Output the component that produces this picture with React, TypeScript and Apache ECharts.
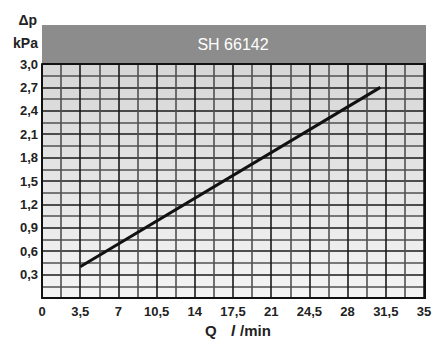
import React, { useEffect, useRef } from "react";
import * as echarts from "echarts";

const title = "SH 66142";
const yUnit = ["Δp", "kPa"];
const xName = ["Q", "l", "/min"];
const flowQ = [3.5, 31];
const pressureDrop = [0.4, 2.7];
const xMax = 35;
const yMax = 3.0;
const xStep = 1.75;
const yStep = 0.15;

const FONT = "'Liberation Sans Narrow', 'Liberation Sans', Arial, sans-serif";

export default function App() {
  const ref = useRef<HTMLDivElement>(null);
  useEffect(() => {
    if (!ref.current) return;
    const chart = echarts.init(ref.current, null, { renderer: "svg" });
    const fmt = (v: number, major: number) => {
      const k = Math.round(v * 100);
      if (k % Math.round(major * 100) !== 0) return "";
      return String(Math.round(v * 100) / 100).replace(".", ",");
    };
    chart.setOption({
      animation: false,
      backgroundColor: "#ffffff",
      grid: { left: 42, right: 13, top: 64, bottom: 43, show: true, backgroundColor: {
        type: "linear", x: 0, y: 0, x2: 0, y2: 1,
        colorStops: [{ offset: 0, color: "#d6d6d6" }, { offset: 1, color: "#f4f4f4" }],
      }, borderWidth: 0 },
      xAxis: {
        type: "value", min: 0, max: xMax, interval: xStep,
        axisLine: { show: true, lineStyle: { color: "#111", width: 2 } },
        axisTick: { show: false },
        axisLabel: {
          formatter: (v: number) => (v === 0 ? "0" : fmt(v, 3.5)),
          color: "#222", fontFamily: FONT, fontWeight: "bold", fontSize: 13, margin: 7,
          showMinLabel: true, showMaxLabel: true,
        },
        splitLine: { show: true, lineStyle: { color: ["#1a1a1a", "#505050"], width: 1.6 } },
      },
      yAxis: {
        type: "value", min: 0, max: yMax, interval: yStep,
        axisLine: { show: true, lineStyle: { color: "#111", width: 2 } },
        axisTick: { show: false },
        axisLabel: {
          formatter: (v: number) => (v === 0 ? "" : (() => { const s = fmt(v, 0.3); return s && !s.includes(",") ? s + ",0" : s; })()),
          color: "#222", fontFamily: FONT, fontWeight: "bold", fontSize: 13, margin: 4,
        },
        splitLine: { show: true, lineStyle: { color: ["#1a1a1a", "#505050"], width: 1.6 } },
      },
      graphic: [
        { type: "rect", left: 42, top: 25, shape: { width: 384, height: 39 }, style: { fill: "#8c8c8c" }, silent: true },
        { type: "rect", left: 424, top: 64, shape: { width: 2, height: 235 }, style: { fill: "#111" }, silent: true, z: 100 },
        { type: "rect", left: 42, top: 63, shape: { width: 384, height: 2 }, style: { fill: "#111" }, silent: true, z: 100 },
        { type: "text", x: 233, y: 44, style: { text: title, fill: "#ffffff", font: "16px 'Liberation Sans', Arial, sans-serif", align: "center", verticalAlign: "middle" } },
        { type: "text", x: 37, y: 20, style: { text: yUnit[0], fill: "#222", font: `bold 14px ${FONT}`, align: "right", verticalAlign: "middle" } },
        { type: "text", x: 38, y: 43, style: { text: yUnit[1], fill: "#222", font: `bold 14px ${FONT}`, align: "right", verticalAlign: "middle" } },
        { type: "text", x: 205, y: 330, style: { text: xName[0], fill: "#222", font: `bold 15px ${FONT}`, verticalAlign: "middle" } },
        { type: "text", x: 231, y: 330, style: { text: xName[1], fill: "#222", font: `italic bold 15px ${FONT}`, verticalAlign: "middle" } },
        { type: "text", x: 240, y: 330, style: { text: xName[2], fill: "#222", font: `bold 15px ${FONT}`, verticalAlign: "middle" } },
      ],
      series: [{
        type: "line", data: flowQ.map((q, i) => [q, pressureDrop[i]]),
        symbol: "none", lineStyle: { color: "#111", width: 3 }, z: 10,
      }],
    });
    return () => chart.dispose();
  }, []);
  return <div ref={ref} style={{ position: "fixed", left: 0, top: 0, width: 437, height: 341 }} />;
}
